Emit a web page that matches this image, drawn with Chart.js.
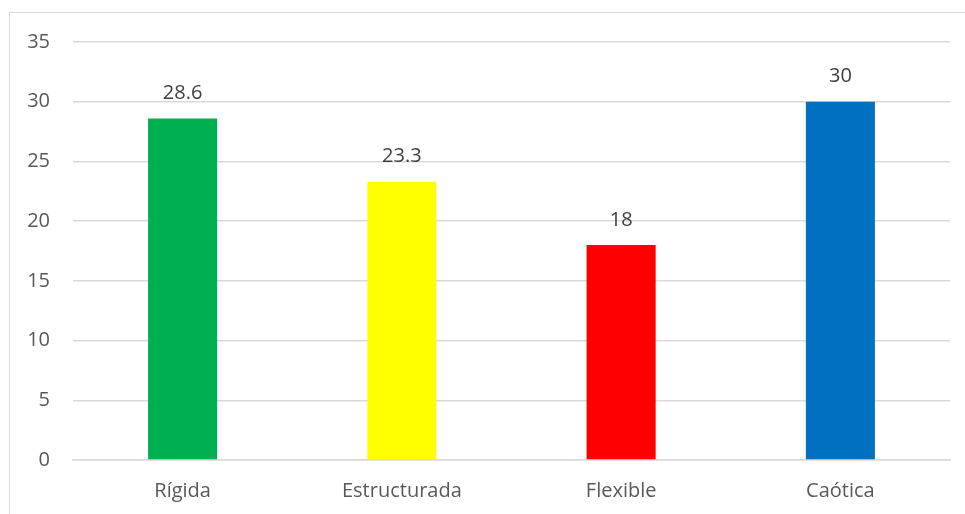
<!DOCTYPE html>
<html>
<head>
<meta charset="utf-8">
<script src="https://cdn.jsdelivr.net/npm/chart.js@4/dist/chart.umd.min.js"></script>
<style>
html,body{margin:0;padding:0;background:#fff;overflow:hidden}
#wrap{position:relative;width:965px;height:514px}
#marco{position:absolute;left:9px;top:12px;width:1000px;height:600px;border:1.5px solid #d9d9d9}
canvas{position:absolute;left:0;top:0}
</style>
</head>
<body>
<div id="wrap">
<div id="marco"></div>
<canvas id="grafica" width="965" height="514"></canvas>
</div>
<script>
/* DATOS */
const categorias=["Rígida","Estructurada","Flexible","Caótica"]
const valores=[28.6,23.3,18,30]
const colores=["#00B050","#FFFF00","#FF0000","#0070C0"]

const fuente="'Open Sans', sans-serif"

/* ETIQUETAS SOBRE LAS BARRAS */
const etiquetas={
id:"etiquetas",
afterDatasetsDraw(chart){
const ctx=chart.ctx
ctx.save()
ctx.font="20px "+fuente
ctx.fillStyle="#404040"
ctx.textAlign="center"
ctx.textBaseline="bottom"
chart.getDatasetMeta(0).data.forEach((b,i)=>{
ctx.fillText(String(valores[i]),b.x,b.y-15)
})
ctx.restore()
}
}

new Chart(document.getElementById("grafica"),{
type:"bar",
data:{
labels:categorias,
datasets:[{
data:valores,
backgroundColor:colores,
categoryPercentage:1,
barPercentage:0.315
}]
},
options:{
responsive:false,
animation:false,
layout:{padding:{left:0,right:15,top:42,bottom:0}},
plugins:{legend:{display:false},tooltip:{enabled:false}},
scales:{
x:{
grid:{display:false,drawTicks:false},
border:{color:"#d9d9d9",width:1.5},
ticks:{color:"#595959",font:{family:fuente,size:20},padding:19},
afterFit(s){s.height=54}
},
y:{
min:0,max:35,
grid:{color:"#d9d9d9",lineWidth:1.5,drawTicks:false},
border:{display:false},
ticks:{stepSize:5,color:"#595959",font:{family:fuente,size:20},padding:23},
afterFit(s){s.width=73}
}
}
},
plugins:[etiquetas]
})
</script>
</body>
</html>
